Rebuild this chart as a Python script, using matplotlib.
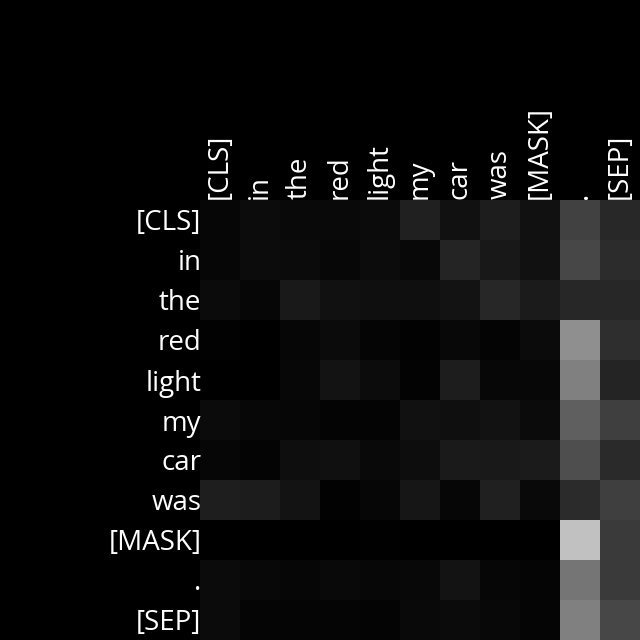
import numpy as np
import matplotlib.pyplot as plt

tokens = ["[CLS]", "in", "the", "red", "light", "my", "car", "was", "[MASK]", ".", "[SEP]"]

# attention weights, rows = query token, cols = key token
row_cls = [0.027, 0.047, 0.039, 0.039, 0.043, 0.125, 0.067, 0.114, 0.067, 0.255, 0.161]
row_in = [0.027, 0.047, 0.043, 0.031, 0.047, 0.035, 0.141, 0.094, 0.067, 0.278, 0.173]
row_the = [0.043, 0.024, 0.098, 0.067, 0.059, 0.059, 0.078, 0.153, 0.106, 0.153, 0.153]
row_red = [0.008, 0.000, 0.024, 0.043, 0.020, 0.008, 0.035, 0.016, 0.043, 0.561, 0.180]
row_light = [0.000, 0.000, 0.031, 0.075, 0.047, 0.012, 0.114, 0.031, 0.031, 0.502, 0.145]
row_my = [0.043, 0.031, 0.027, 0.016, 0.016, 0.067, 0.059, 0.071, 0.043, 0.373, 0.247]
row_car = [0.027, 0.016, 0.055, 0.063, 0.039, 0.051, 0.102, 0.098, 0.106, 0.306, 0.165]
row_was = [0.118, 0.110, 0.078, 0.008, 0.027, 0.086, 0.027, 0.129, 0.039, 0.169, 0.247]
row_mask = [0.000, 0.000, 0.000, 0.000, 0.004, 0.000, 0.000, 0.000, 0.000, 0.757, 0.227]
row_dot = [0.043, 0.035, 0.024, 0.039, 0.031, 0.035, 0.075, 0.024, 0.020, 0.459, 0.227]
row_sep = [0.043, 0.020, 0.020, 0.020, 0.016, 0.039, 0.043, 0.035, 0.020, 0.502, 0.278]

attn = np.array([row_cls, row_in, row_the, row_red, row_light, row_my,
                 row_car, row_was, row_mask, row_dot, row_sep])

plt.rcParams["font.family"] = ["Open Sans", "DejaVu Sans"]

fig = plt.figure(figsize=(6.4, 6.4), dpi=100, facecolor="black")
ax = fig.add_axes([200/640, 0, 440/640, 440/640])
ax.set_facecolor("black")
ax.imshow(attn, cmap="gray", vmin=0, vmax=1, aspect="auto", interpolation="nearest")

ax.set_xticks(range(len(tokens)))
ax.set_yticks(range(len(tokens)))
ax.set_xticklabels(tokens, rotation=90, fontsize=20, color="white")
ax.set_yticklabels(tokens, fontsize=20, color="white")
ax.xaxis.tick_top()
ax.tick_params(axis="x", length=0, pad=1)
ax.tick_params(axis="y", length=0, pad=-1)
for s in ax.spines.values():
    s.set_visible(False)

fig.savefig("out.png", dpi=100, facecolor="black")
